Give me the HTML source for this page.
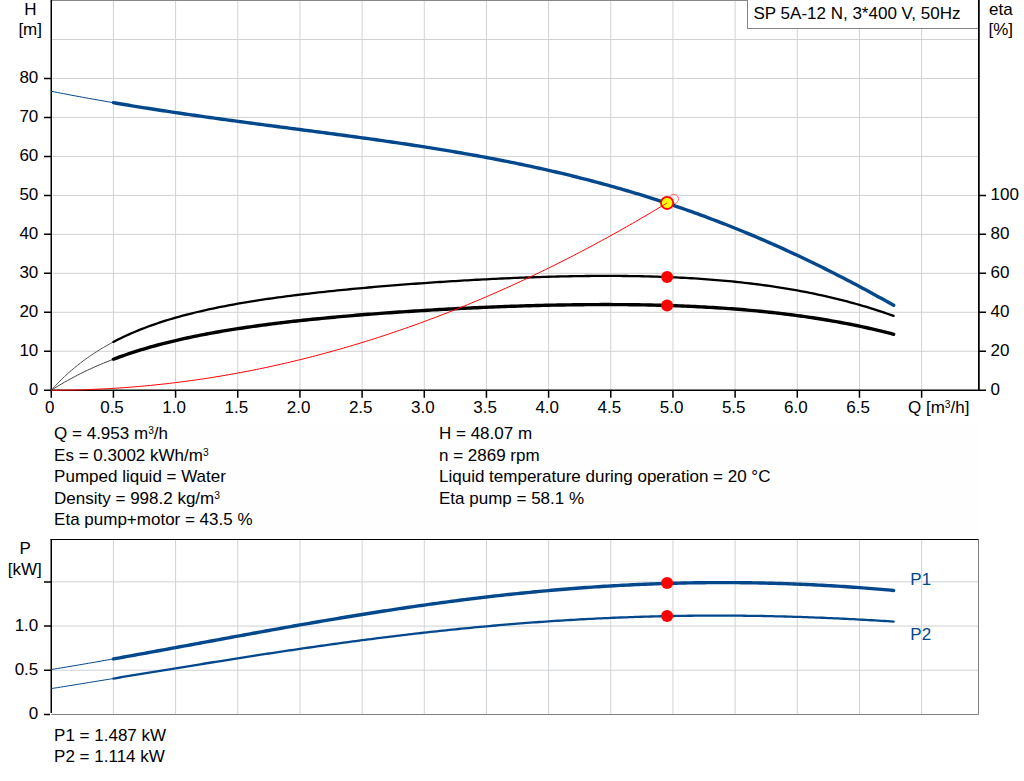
<!DOCTYPE html>
<html><head><meta charset="utf-8"><style>html,body{margin:0;padding:0;background:#fff;width:1024px;height:781px;overflow:hidden}</style></head>
<body><svg width="1024" height="781" viewBox="0 0 1024 781" style="position:absolute;left:0;top:0">
<rect width="1024" height="781" fill="#fff"/>
<rect x="51" y="423" width="927" height="113" fill="#fefefe"/>
<path d="M113.42 0V390.25M175.59 0V390.25M237.76 0V390.25M299.93 0V390.25M362.10 0V390.25M424.27 0V390.25M486.44 0V390.25M548.61 0V390.25M610.78 0V390.25M672.95 0V390.25M735.12 0V390.25M797.29 0V390.25M859.46 0V390.25M921.63 0V390.25M51.25 351.28H978.75M51.25 312.31H978.75M51.25 273.34H978.75M51.25 234.37H978.75M51.25 195.40H978.75M51.25 156.43H978.75M51.25 117.46H978.75M51.25 78.49H978.75M51.25 39.52H978.75" stroke="#cfd2d5" stroke-width="1" fill="none"/>
<path d="M51.25 0.5H978.75" stroke="#888" stroke-width="1"/>
<path d="M51.25 0V391.00M978.75 0V391.00M44 390.25H986M44 390.25H51.25M44 351.28H51.25M44 312.31H51.25M44 273.34H51.25M44 234.37H51.25M44 195.40H51.25M44 156.43H51.25M44 117.46H51.25M44 78.49H51.25M978.75 390.25H986M978.75 351.28H986M978.75 312.31H986M978.75 273.34H986M978.75 234.37H986M978.75 195.40H986M51.25 390.25V397.8M113.42 390.25V397.8M175.59 390.25V397.8M237.76 390.25V397.8M299.93 390.25V397.8M362.10 390.25V397.8M424.27 390.25V397.8M486.44 390.25V397.8M548.61 390.25V397.8M610.78 390.25V397.8M672.95 390.25V397.8M735.12 390.25V397.8M797.29 390.25V397.8M859.46 390.25V397.8M921.63 390.25V397.8" stroke="#000" stroke-width="1.5" fill="none"/>
<rect x="747.5" y="-1" width="231.25" height="29.5" fill="#fff" stroke="#858585" stroke-width="1"/>
<path d="M978.75 0V390.25" stroke="#000" stroke-width="1.5"/>
<path d="M51.25,91.28 L54.36,91.89 L57.47,92.50 L60.58,93.10 L63.68,93.70 L66.79,94.29 L69.90,94.88 L73.01,95.47 L76.12,96.05 L79.23,96.63 L82.34,97.20 L85.44,97.77 L88.55,98.33 L91.66,98.89 L94.77,99.44 L97.88,100.00 L100.99,100.54 L104.09,101.09 L107.20,101.63 L110.31,102.16 L113.42,102.69" stroke="#03478d" stroke-width="1" fill="none"/>
<path d="M113.42,102.69 L116.53,103.22 L119.64,103.75 L122.75,104.27 L125.85,104.78 L128.96,105.30 L132.07,105.81 L135.18,106.31 L138.29,106.81 L141.40,107.31 L144.50,107.81 L147.61,108.30 L150.72,108.79 L153.83,109.27 L156.94,109.75 L160.05,110.23 L163.16,110.71 L166.26,111.18 L169.37,111.65 L172.48,112.12 L175.59,112.58 L178.70,113.04 L181.81,113.50 L184.92,113.95 L188.02,114.41 L191.13,114.86 L194.24,115.30 L197.35,115.75 L200.46,116.19 L203.57,116.63 L206.68,117.07 L209.78,117.51 L212.89,117.94 L216.00,118.37 L219.11,118.80 L222.22,119.23 L225.33,119.66 L228.43,120.08 L231.54,120.51 L234.65,120.93 L237.76,121.35 L240.87,121.76 L243.98,122.18 L247.09,122.60 L250.19,123.01 L253.30,123.42 L256.41,123.84 L259.52,124.25 L262.63,124.66 L265.74,125.07 L268.85,125.48 L271.95,125.89 L275.06,126.29 L278.17,126.70 L281.28,127.11 L284.39,127.51 L287.50,127.92 L290.60,128.33 L293.71,128.73 L296.82,129.14 L299.93,129.54 L303.04,129.95 L306.15,130.36 L309.26,130.76 L312.36,131.17 L315.47,131.58 L318.58,131.99 L321.69,132.40 L324.80,132.81 L327.91,133.22 L331.01,133.63 L334.12,134.04 L337.23,134.46 L340.34,134.87 L343.45,135.29 L346.56,135.71 L349.67,136.13 L352.77,136.55 L355.88,136.97 L358.99,137.40 L362.10,137.82 L365.21,138.25 L368.32,138.68 L371.43,139.11 L374.53,139.55 L377.64,139.99 L380.75,140.43 L383.86,140.87 L386.97,141.31 L390.08,141.76 L393.19,142.21 L396.29,142.67 L399.40,143.12 L402.51,143.58 L405.62,144.05 L408.73,144.51 L411.84,144.98 L414.94,145.45 L418.05,145.93 L421.16,146.41 L424.27,146.89 L427.38,147.38 L430.49,147.87 L433.60,148.37 L436.70,148.87 L439.81,149.37 L442.92,149.88 L446.03,150.39 L449.14,150.91 L452.25,151.43 L455.36,151.96 L458.46,152.49 L461.57,153.02 L464.68,153.56 L467.79,154.11 L470.90,154.66 L474.01,155.22 L477.11,155.78 L480.22,156.34 L483.33,156.91 L486.44,157.49 L489.55,158.07 L492.66,158.66 L495.77,159.26 L498.87,159.86 L501.98,160.46 L505.09,161.08 L508.20,161.69 L511.31,162.32 L514.42,162.95 L517.53,163.59 L520.63,164.23 L523.74,164.88 L526.85,165.54 L529.96,166.20 L533.07,166.87 L536.18,167.55 L539.28,168.23 L542.39,168.92 L545.50,169.62 L548.61,170.33 L551.72,171.04 L554.83,171.76 L557.94,172.49 L561.04,173.22 L564.15,173.96 L567.26,174.71 L570.37,175.47 L573.48,176.24 L576.59,177.01 L579.70,177.79 L582.80,178.58 L585.91,179.38 L589.02,180.18 L592.13,181.00 L595.24,181.82 L598.35,182.65 L601.45,183.49 L604.56,184.33 L607.67,185.19 L610.78,186.05 L613.89,186.92 L617.00,187.81 L620.11,188.69 L623.21,189.59 L626.32,190.50 L629.43,191.42 L632.54,192.34 L635.65,193.28 L638.76,194.22 L641.87,195.17 L644.97,196.14 L648.08,197.11 L651.19,198.09 L654.30,199.08 L657.41,200.08 L660.52,201.09 L663.62,202.10 L666.73,203.13 L669.84,204.17 L672.95,205.22 L676.06,206.27 L679.17,207.34 L682.28,208.42 L685.38,209.50 L688.49,210.60 L691.60,211.70 L694.71,212.82 L697.82,213.94 L700.93,215.08 L704.03,216.22 L707.14,217.38 L710.25,218.54 L713.36,219.72 L716.47,220.91 L719.58,222.10 L722.69,223.31 L725.79,224.52 L728.90,225.75 L732.01,226.99 L735.12,228.23 L738.23,229.49 L741.34,230.76 L744.45,232.03 L747.55,233.32 L750.66,234.62 L753.77,235.93 L756.88,237.25 L759.99,238.58 L763.10,239.92 L766.21,241.26 L769.31,242.62 L772.42,244.00 L775.53,245.38 L778.64,246.77 L781.75,248.17 L784.86,249.58 L787.96,251.00 L791.07,252.43 L794.18,253.88 L797.29,255.33 L800.40,256.79 L803.51,258.27 L806.62,259.75 L809.72,261.24 L812.83,262.75 L815.94,264.26 L819.05,265.79 L822.16,267.32 L825.27,268.87 L828.38,270.42 L831.48,271.99 L834.59,273.56 L837.70,275.15 L840.81,276.74 L843.92,278.35 L847.03,279.96 L850.13,281.58 L853.24,283.22 L856.35,284.86 L859.46,286.52 L862.57,288.18 L865.68,289.85 L868.79,291.53 L871.89,293.23 L875.00,294.93 L878.11,296.64 L881.22,298.36 L884.33,300.09 L887.44,301.83 L890.55,303.57 L893.65,305.33" stroke="#03478d" stroke-width="3.4" fill="none" stroke-linecap="round" stroke-linejoin="round"/>
<path d="M51.37,390.11 L54.64,386.52 L57.91,383.09 L61.17,379.81 L64.44,376.66 L67.70,373.64 L70.97,370.75 L74.23,367.97 L77.50,365.31 L80.76,362.75 L84.03,360.29 L87.30,357.92 L90.56,355.65 L93.83,353.46 L97.09,351.36 L100.36,349.33 L103.62,347.37 L106.89,345.49 L110.15,343.67 L113.42,341.92" stroke="#555" stroke-width="1" fill="none"/>
<path d="M113.42,341.92 L116.53,340.31 L119.64,338.76 L122.75,337.25 L125.85,335.79 L128.96,334.38 L132.07,333.02 L135.18,331.69 L138.29,330.41 L141.40,329.17 L144.50,327.96 L147.61,326.79 L150.72,325.66 L153.83,324.56 L156.94,323.49 L160.05,322.45 L163.16,321.44 L166.26,320.46 L169.37,319.51 L172.48,318.58 L175.59,317.68 L178.70,316.80 L181.81,315.95 L184.92,315.12 L188.02,314.31 L191.13,313.52 L194.24,312.75 L197.35,312.00 L200.46,311.27 L203.57,310.55 L206.68,309.86 L209.78,309.18 L212.89,308.52 L216.00,307.87 L219.11,307.23 L222.22,306.61 L225.33,306.01 L228.43,305.42 L231.54,304.84 L234.65,304.27 L237.76,303.72 L240.87,303.18 L243.98,302.64 L247.09,302.12 L250.19,301.61 L253.30,301.11 L256.41,300.62 L259.52,300.14 L262.63,299.67 L265.74,299.21 L268.85,298.76 L271.95,298.31 L275.06,297.87 L278.17,297.44 L281.28,297.02 L284.39,296.60 L287.50,296.20 L290.60,295.80 L293.71,295.40 L296.82,295.01 L299.93,294.63 L303.04,294.26 L306.15,293.89 L309.26,293.52 L312.36,293.16 L315.47,292.81 L318.58,292.46 L321.69,292.12 L324.80,291.78 L327.91,291.45 L331.01,291.12 L334.12,290.80 L337.23,290.48 L340.34,290.17 L343.45,289.86 L346.56,289.55 L349.67,289.25 L352.77,288.95 L355.88,288.66 L358.99,288.37 L362.10,288.08 L365.21,287.80 L368.32,287.52 L371.43,287.25 L374.53,286.97 L377.64,286.71 L380.75,286.44 L383.86,286.18 L386.97,285.92 L390.08,285.67 L393.19,285.42 L396.29,285.17 L399.40,284.92 L402.51,284.68 L405.62,284.44 L408.73,284.21 L411.84,283.97 L414.94,283.74 L418.05,283.52 L421.16,283.29 L424.27,283.07 L427.38,282.85 L430.49,282.64 L433.60,282.43 L436.70,282.22 L439.81,282.01 L442.92,281.81 L446.03,281.61 L449.14,281.41 L452.25,281.22 L455.36,281.03 L458.46,280.84 L461.57,280.65 L464.68,280.47 L467.79,280.29 L470.90,280.11 L474.01,279.94 L477.11,279.77 L480.22,279.60 L483.33,279.44 L486.44,279.28 L489.55,279.12 L492.66,278.96 L495.77,278.81 L498.87,278.66 L501.98,278.52 L505.09,278.38 L508.20,278.24 L511.31,278.10 L514.42,277.97 L517.53,277.85 L520.63,277.72 L523.74,277.60 L526.85,277.48 L529.96,277.37 L533.07,277.26 L536.18,277.15 L539.28,277.05 L542.39,276.95 L545.50,276.86 L548.61,276.77 L551.72,276.68 L554.83,276.60 L557.94,276.52 L561.04,276.45 L564.15,276.38 L567.26,276.31 L570.37,276.25 L573.48,276.20 L576.59,276.15 L579.70,276.10 L582.80,276.06 L585.91,276.02 L589.02,275.99 L592.13,275.96 L595.24,275.94 L598.35,275.92 L601.45,275.91 L604.56,275.90 L607.67,275.90 L610.78,275.90 L613.89,275.91 L617.00,275.93 L620.11,275.95 L623.21,275.98 L626.32,276.01 L629.43,276.05 L632.54,276.09 L635.65,276.14 L638.76,276.20 L641.87,276.27 L644.97,276.34 L648.08,276.41 L651.19,276.50 L654.30,276.59 L657.41,276.69 L660.52,276.79 L663.62,276.90 L666.73,277.02 L669.84,277.15 L672.95,277.28 L676.06,277.43 L679.17,277.58 L682.28,277.73 L685.38,277.90 L688.49,278.07 L691.60,278.26 L694.71,278.45 L697.82,278.65 L700.93,278.86 L704.03,279.07 L707.14,279.30 L710.25,279.53 L713.36,279.78 L716.47,280.03 L719.58,280.30 L722.69,280.57 L725.79,280.85 L728.90,281.15 L732.01,281.45 L735.12,281.76 L738.23,282.09 L741.34,282.42 L744.45,282.77 L747.55,283.12 L750.66,283.49 L753.77,283.87 L756.88,284.26 L759.99,284.66 L763.10,285.08 L766.21,285.51 L769.31,285.94 L772.42,286.39 L775.53,286.86 L778.64,287.33 L781.75,287.82 L784.86,288.33 L787.96,288.84 L791.07,289.37 L794.18,289.92 L797.29,290.47 L800.40,291.04 L803.51,291.63 L806.62,292.23 L809.72,292.85 L812.83,293.48 L815.94,294.12 L819.05,294.78 L822.16,295.46 L825.27,296.15 L828.38,296.86 L831.48,297.59 L834.59,298.33 L837.70,299.09 L840.81,299.87 L843.92,300.66 L847.03,301.47 L850.13,302.30 L853.24,303.15 L856.35,304.01 L859.46,304.90 L862.57,305.80 L865.68,306.72 L868.79,307.66 L871.89,308.63 L875.00,309.61 L878.11,310.61 L881.22,311.63 L884.33,312.68 L887.44,313.74 L890.55,314.83 L893.65,315.94" stroke="#000" stroke-width="2.3" fill="none" stroke-linecap="round" stroke-linejoin="round"/>
<path d="M51.37,390.17 L54.64,388.11 L57.91,386.10 L61.17,384.15 L64.44,382.25 L67.70,380.40 L70.97,378.61 L74.23,376.86 L77.50,375.16 L80.76,373.51 L84.03,371.90 L87.30,370.34 L90.56,368.82 L93.83,367.34 L97.09,365.90 L100.36,364.50 L103.62,363.13 L106.89,361.81 L110.15,360.51 L113.42,359.25" stroke="#444" stroke-width="1" fill="none"/>
<path d="M113.42,359.25 L116.53,358.09 L119.64,356.95 L122.75,355.84 L125.85,354.75 L128.96,353.70 L132.07,352.67 L135.18,351.66 L138.29,350.68 L141.40,349.72 L144.50,348.79 L147.61,347.87 L150.72,346.98 L153.83,346.11 L156.94,345.26 L160.05,344.43 L163.16,343.62 L166.26,342.83 L169.37,342.05 L172.48,341.30 L175.59,340.56 L178.70,339.84 L181.81,339.13 L184.92,338.44 L188.02,337.76 L191.13,337.10 L194.24,336.45 L197.35,335.82 L200.46,335.20 L203.57,334.59 L206.68,334.00 L209.78,333.41 L212.89,332.84 L216.00,332.29 L219.11,331.74 L222.22,331.20 L225.33,330.68 L228.43,330.16 L231.54,329.66 L234.65,329.16 L237.76,328.68 L240.87,328.20 L243.98,327.74 L247.09,327.28 L250.19,326.83 L253.30,326.39 L256.41,325.95 L259.52,325.53 L262.63,325.11 L265.74,324.70 L268.85,324.29 L271.95,323.90 L275.06,323.51 L278.17,323.13 L281.28,322.75 L284.39,322.38 L287.50,322.02 L290.60,321.66 L293.71,321.31 L296.82,320.96 L299.93,320.62 L303.04,320.28 L306.15,319.96 L309.26,319.63 L312.36,319.31 L315.47,319.00 L318.58,318.69 L321.69,318.38 L324.80,318.08 L327.91,317.79 L331.01,317.49 L334.12,317.21 L337.23,316.93 L340.34,316.65 L343.45,316.37 L346.56,316.10 L349.67,315.83 L352.77,315.57 L355.88,315.31 L358.99,315.06 L362.10,314.81 L365.21,314.56 L368.32,314.31 L371.43,314.07 L374.53,313.83 L377.64,313.60 L380.75,313.37 L383.86,313.14 L386.97,312.92 L390.08,312.70 L393.19,312.48 L396.29,312.26 L399.40,312.05 L402.51,311.84 L405.62,311.63 L408.73,311.43 L411.84,311.23 L414.94,311.03 L418.05,310.84 L421.16,310.65 L424.27,310.46 L427.38,310.27 L430.49,310.09 L433.60,309.91 L436.70,309.73 L439.81,309.56 L442.92,309.39 L446.03,309.22 L449.14,309.05 L452.25,308.89 L455.36,308.73 L458.46,308.57 L461.57,308.41 L464.68,308.26 L467.79,308.11 L470.90,307.97 L474.01,307.82 L477.11,307.68 L480.22,307.54 L483.33,307.41 L486.44,307.27 L489.55,307.14 L492.66,307.02 L495.77,306.89 L498.87,306.77 L501.98,306.65 L505.09,306.54 L508.20,306.42 L511.31,306.32 L514.42,306.21 L517.53,306.11 L520.63,306.00 L523.74,305.91 L526.85,305.81 L529.96,305.72 L533.07,305.63 L536.18,305.55 L539.28,305.47 L542.39,305.39 L545.50,305.31 L548.61,305.24 L551.72,305.17 L554.83,305.11 L557.94,305.05 L561.04,304.99 L564.15,304.93 L567.26,304.88 L570.37,304.84 L573.48,304.79 L576.59,304.75 L579.70,304.72 L582.80,304.68 L585.91,304.65 L589.02,304.63 L592.13,304.61 L595.24,304.59 L598.35,304.58 L601.45,304.57 L604.56,304.57 L607.67,304.57 L610.78,304.57 L613.89,304.58 L617.00,304.59 L620.11,304.61 L623.21,304.63 L626.32,304.66 L629.43,304.69 L632.54,304.72 L635.65,304.76 L638.76,304.81 L641.87,304.86 L644.97,304.92 L648.08,304.98 L651.19,305.04 L654.30,305.11 L657.41,305.19 L660.52,305.27 L663.62,305.36 L666.73,305.45 L669.84,305.55 L672.95,305.65 L676.06,305.76 L679.17,305.88 L682.28,306.00 L685.38,306.12 L688.49,306.26 L691.60,306.40 L694.71,306.54 L697.82,306.70 L700.93,306.85 L704.03,307.02 L707.14,307.19 L710.25,307.37 L713.36,307.55 L716.47,307.75 L719.58,307.95 L722.69,308.15 L725.79,308.37 L728.90,308.59 L732.01,308.82 L735.12,309.05 L738.23,309.30 L741.34,309.55 L744.45,309.81 L747.55,310.08 L750.66,310.35 L753.77,310.64 L756.88,310.93 L759.99,311.23 L763.10,311.54 L766.21,311.86 L769.31,312.19 L772.42,312.52 L775.53,312.87 L778.64,313.22 L781.75,313.59 L784.86,313.96 L787.96,314.35 L791.07,314.74 L794.18,315.14 L797.29,315.56 L800.40,315.98 L803.51,316.41 L806.62,316.86 L809.72,317.31 L812.83,317.78 L815.94,318.26 L819.05,318.75 L822.16,319.25 L825.27,319.76 L828.38,320.28 L831.48,320.81 L834.59,321.36 L837.70,321.92 L840.81,322.49 L843.92,323.08 L847.03,323.67 L850.13,324.28 L853.24,324.91 L856.35,325.54 L859.46,326.19 L862.57,326.85 L865.68,327.53 L868.79,328.22 L871.89,328.93 L875.00,329.65 L878.11,330.38 L881.22,331.13 L884.33,331.90 L887.44,332.68 L890.55,333.47 L893.65,334.29" stroke="#000" stroke-width="3.4" fill="none" stroke-linecap="round" stroke-linejoin="round"/>
<path d="M51.25,390.25 L54.36,390.25 L57.47,390.23 L60.58,390.21 L63.68,390.17 L66.79,390.13 L69.90,390.08 L73.01,390.02 L76.12,389.94 L79.23,389.86 L82.34,389.77 L85.44,389.67 L88.55,389.56 L91.66,389.44 L94.77,389.31 L97.88,389.18 L100.99,389.03 L104.09,388.87 L107.20,388.70 L110.31,388.53 L113.42,388.34 L116.53,388.15 L119.64,387.94 L122.75,387.73 L125.85,387.50 L128.96,387.27 L132.07,387.02 L135.18,386.77 L138.29,386.51 L141.40,386.24 L144.50,385.95 L147.61,385.66 L150.72,385.36 L153.83,385.05 L156.94,384.73 L160.05,384.40 L163.16,384.06 L166.26,383.72 L169.37,383.36 L172.48,382.99 L175.59,382.61 L178.70,382.23 L181.81,381.83 L184.92,381.43 L188.02,381.01 L191.13,380.59 L194.24,380.15 L197.35,379.71 L200.46,379.25 L203.57,378.79 L206.68,378.32 L209.78,377.84 L212.89,377.35 L216.00,376.84 L219.11,376.33 L222.22,375.81 L225.33,375.28 L228.43,374.74 L231.54,374.20 L234.65,373.64 L237.76,373.07 L240.87,372.49 L243.98,371.90 L247.09,371.31 L250.19,370.70 L253.30,370.09 L256.41,369.46 L259.52,368.83 L262.63,368.18 L265.74,367.53 L268.85,366.86 L271.95,366.19 L275.06,365.51 L278.17,364.82 L281.28,364.12 L284.39,363.40 L287.50,362.68 L290.60,361.95 L293.71,361.21 L296.82,360.46 L299.93,359.71 L303.04,358.94 L306.15,358.16 L309.26,357.37 L312.36,356.58 L315.47,355.77 L318.58,354.95 L321.69,354.13 L324.80,353.29 L327.91,352.45 L331.01,351.59 L334.12,350.73 L337.23,349.86 L340.34,348.97 L343.45,348.08 L346.56,347.18 L349.67,346.27 L352.77,345.35 L355.88,344.41 L358.99,343.47 L362.10,342.52 L365.21,341.57 L368.32,340.60 L371.43,339.62 L374.53,338.63 L377.64,337.63 L380.75,336.63 L383.86,335.61 L386.97,334.58 L390.08,333.55 L393.19,332.50 L396.29,331.45 L399.40,330.38 L402.51,329.31 L405.62,328.23 L408.73,327.13 L411.84,326.03 L414.94,324.92 L418.05,323.80 L421.16,322.67 L424.27,321.53 L427.38,320.38 L430.49,319.22 L433.60,318.05 L436.70,316.87 L439.81,315.68 L442.92,314.48 L446.03,313.27 L449.14,312.06 L452.25,310.83 L455.36,309.59 L458.46,308.35 L461.57,307.09 L464.68,305.83 L467.79,304.55 L470.90,303.27 L474.01,301.98 L477.11,300.67 L480.22,299.36 L483.33,298.04 L486.44,296.71 L489.55,295.37 L492.66,294.02 L495.77,292.66 L498.87,291.29 L501.98,289.91 L505.09,288.52 L508.20,287.12 L511.31,285.71 L514.42,284.30 L517.53,282.87 L520.63,281.43 L523.74,279.99 L526.85,278.53 L529.96,277.06 L533.07,275.59 L536.18,274.11 L539.28,272.61 L542.39,271.11 L545.50,269.60 L548.61,268.07 L551.72,266.54 L554.83,265.00 L557.94,263.45 L561.04,261.89 L564.15,260.32 L567.26,258.74 L570.37,257.15 L573.48,255.55 L576.59,253.94 L579.70,252.32 L582.80,250.70 L585.91,249.06 L589.02,247.41 L592.13,245.76 L595.24,244.09 L598.35,242.42 L601.45,240.73 L604.56,239.04 L607.67,237.33 L610.78,235.62 L613.89,233.90 L617.00,232.16 L620.11,230.42 L623.21,228.67 L626.32,226.91 L629.43,225.14 L632.54,223.36 L635.65,221.57 L638.76,219.77 L641.87,217.96 L644.97,216.14 L648.08,214.32 L651.19,212.48 L654.30,210.63 L657.41,208.77 L660.52,206.91 L663.62,205.03 L666.73,203.15 L669.84,201.25 L672.95,199.35" stroke="#f00" stroke-width="1" fill="none"/>
<circle cx="673.8" cy="199.0" r="4.7" fill="none" stroke="#f66" stroke-width="1"/>
<circle cx="667.1" cy="202.9" r="6.1" fill="#ff0" stroke="#f00" stroke-width="1.8"/>
<path d="M661 206.7L667.1 202.9" stroke="#f33" stroke-width="1"/>
<circle cx="667.1" cy="277.04" r="6.0" fill="#f00"/>
<circle cx="667.1" cy="305.49" r="6.0" fill="#f00"/>
<text x="30.50" y="15.00" text-anchor="middle" font-family="Liberation Sans" font-size="17" fill="#000">H</text>
<text x="30.20" y="34.80" text-anchor="middle" font-family="Liberation Sans" font-size="17" fill="#000">[m]</text>
<text x="1000.80" y="14.90" text-anchor="middle" font-family="Liberation Sans" font-size="17" fill="#000">eta</text>
<text x="1000.80" y="34.80" text-anchor="middle" font-family="Liberation Sans" font-size="17" fill="#000">[%]</text>
<text x="38.30" y="395.05" text-anchor="end" font-family="Liberation Sans" font-size="17" fill="#000">0</text>
<text x="38.30" y="356.08" text-anchor="end" font-family="Liberation Sans" font-size="17" fill="#000">10</text>
<text x="38.30" y="317.11" text-anchor="end" font-family="Liberation Sans" font-size="17" fill="#000">20</text>
<text x="38.30" y="278.14" text-anchor="end" font-family="Liberation Sans" font-size="17" fill="#000">30</text>
<text x="38.30" y="239.17" text-anchor="end" font-family="Liberation Sans" font-size="17" fill="#000">40</text>
<text x="38.30" y="200.20" text-anchor="end" font-family="Liberation Sans" font-size="17" fill="#000">50</text>
<text x="38.30" y="161.23" text-anchor="end" font-family="Liberation Sans" font-size="17" fill="#000">60</text>
<text x="38.30" y="122.26" text-anchor="end" font-family="Liberation Sans" font-size="17" fill="#000">70</text>
<text x="38.30" y="83.29" text-anchor="end" font-family="Liberation Sans" font-size="17" fill="#000">80</text>
<text x="990.50" y="395.05" text-anchor="start" font-family="Liberation Sans" font-size="17" fill="#000">0</text>
<text x="990.50" y="356.08" text-anchor="start" font-family="Liberation Sans" font-size="17" fill="#000">20</text>
<text x="990.50" y="317.11" text-anchor="start" font-family="Liberation Sans" font-size="17" fill="#000">40</text>
<text x="990.50" y="278.14" text-anchor="start" font-family="Liberation Sans" font-size="17" fill="#000">60</text>
<text x="990.50" y="239.17" text-anchor="start" font-family="Liberation Sans" font-size="17" fill="#000">80</text>
<text x="990.50" y="200.20" text-anchor="start" font-family="Liberation Sans" font-size="17" fill="#000">100</text>
<text x="49.85" y="413.00" text-anchor="middle" font-family="Liberation Sans" font-size="17" fill="#000">0</text>
<text x="112.02" y="413.00" text-anchor="middle" font-family="Liberation Sans" font-size="17" fill="#000">0.5</text>
<text x="174.19" y="413.00" text-anchor="middle" font-family="Liberation Sans" font-size="17" fill="#000">1.0</text>
<text x="236.36" y="413.00" text-anchor="middle" font-family="Liberation Sans" font-size="17" fill="#000">1.5</text>
<text x="298.53" y="413.00" text-anchor="middle" font-family="Liberation Sans" font-size="17" fill="#000">2.0</text>
<text x="360.70" y="413.00" text-anchor="middle" font-family="Liberation Sans" font-size="17" fill="#000">2.5</text>
<text x="422.87" y="413.00" text-anchor="middle" font-family="Liberation Sans" font-size="17" fill="#000">3.0</text>
<text x="485.04" y="413.00" text-anchor="middle" font-family="Liberation Sans" font-size="17" fill="#000">3.5</text>
<text x="547.21" y="413.00" text-anchor="middle" font-family="Liberation Sans" font-size="17" fill="#000">4.0</text>
<text x="609.38" y="413.00" text-anchor="middle" font-family="Liberation Sans" font-size="17" fill="#000">4.5</text>
<text x="671.55" y="413.00" text-anchor="middle" font-family="Liberation Sans" font-size="17" fill="#000">5.0</text>
<text x="733.72" y="413.00" text-anchor="middle" font-family="Liberation Sans" font-size="17" fill="#000">5.5</text>
<text x="795.89" y="413.00" text-anchor="middle" font-family="Liberation Sans" font-size="17" fill="#000">6.0</text>
<text x="858.06" y="413.00" text-anchor="middle" font-family="Liberation Sans" font-size="17" fill="#000">6.5</text>
<text x="908.00" y="413.00" text-anchor="start" font-family="Liberation Sans" font-size="17" fill="#000">Q [m<tspan font-size="10.2" dy="-5.4">3</tspan><tspan dy="5.4">/h]</tspan></text>
<text x="753.50" y="18.90" text-anchor="start" font-family="Liberation Sans" font-size="17" fill="#000">SP 5A-12 N, 3*400 V, 50Hz</text>
<text x="54.10" y="439.00" text-anchor="start" font-family="Liberation Sans" font-size="17" fill="#000">Q = 4.953 m<tspan font-size="10.2" dy="-5.4">3</tspan><tspan dy="5.4">/h</tspan></text>
<text x="54.10" y="461.00" text-anchor="start" font-family="Liberation Sans" font-size="17" fill="#000">Es = 0.3002 kWh/m<tspan font-size="10.2" dy="-5.4">3</tspan></text>
<text x="54.10" y="482.00" text-anchor="start" font-family="Liberation Sans" font-size="17" fill="#000">Pumped liquid = Water</text>
<text x="54.10" y="504.00" text-anchor="start" font-family="Liberation Sans" font-size="17" fill="#000">Density = 998.2 kg/m<tspan font-size="10.2" dy="-5.4">3</tspan></text>
<text x="54.10" y="525.00" text-anchor="start" font-family="Liberation Sans" font-size="17" fill="#000">Eta pump+motor = 43.5 %</text>
<text x="439.00" y="439.00" text-anchor="start" font-family="Liberation Sans" font-size="17" fill="#000">H = 48.07 m</text>
<text x="439.00" y="461.00" text-anchor="start" font-family="Liberation Sans" font-size="17" fill="#000">n = 2869 rpm</text>
<text x="439.00" y="482.00" text-anchor="start" font-family="Liberation Sans" font-size="17" fill="#000">Liquid temperature during operation = 20 °C</text>
<text x="439.00" y="504.00" text-anchor="start" font-family="Liberation Sans" font-size="17" fill="#000">Eta pump = 58.1 %</text>
<path d="M113.42 539.50V714.40M175.59 539.50V714.40M237.76 539.50V714.40M299.93 539.50V714.40M362.10 539.50V714.40M424.27 539.50V714.40M486.44 539.50V714.40M548.61 539.50V714.40M610.78 539.50V714.40M672.95 539.50V714.40M735.12 539.50V714.40M797.29 539.50V714.40M859.46 539.50V714.40M921.63 539.50V714.40M51.25 670.24H978.75M51.25 626.07H978.75M51.25 581.90H978.75" stroke="#cfd2d5" stroke-width="1" fill="none"/>
<path d="M51.25 714.5H978.5V539.50" stroke="#808080" stroke-width="1" fill="none"/>
<path d="M51.25 713V539.00" stroke="#000" stroke-width="1.5" fill="none"/>
<path d="M50.50 539.50H978.5" stroke="#000" stroke-width="1" fill="none"/>
<path d="M44 714.40H50.00M44 670.24H51.25M44 626.07H51.25M44 581.90H51.25" stroke="#000" stroke-width="1.5" fill="none"/>
<text x="25.20" y="553.80" text-anchor="middle" font-family="Liberation Sans" font-size="17" fill="#000">P</text>
<text x="24.80" y="574.60" text-anchor="middle" font-family="Liberation Sans" font-size="17" fill="#000">[kW]</text>
<text x="38.30" y="719.20" text-anchor="end" font-family="Liberation Sans" font-size="17" fill="#000">0</text>
<text x="38.30" y="675.03" text-anchor="end" font-family="Liberation Sans" font-size="17" fill="#000">0.5</text>
<text x="38.30" y="630.87" text-anchor="end" font-family="Liberation Sans" font-size="17" fill="#000">1.0</text>
<path d="M51.25,669.54 L54.36,669.03 L57.47,668.52 L60.58,668.01 L63.68,667.49 L66.79,666.97 L69.90,666.45 L73.01,665.93 L76.12,665.40 L79.23,664.87 L82.34,664.34 L85.44,663.81 L88.55,663.27 L91.66,662.73 L94.77,662.19 L97.88,661.65 L100.99,661.11 L104.09,660.56 L107.20,660.01 L110.31,659.46 L113.42,658.91" stroke="#03478d" stroke-width="1" fill="none"/>
<path d="M113.42,658.91 L116.53,658.35 L119.64,657.80 L122.75,657.24 L125.85,656.68 L128.96,656.12 L132.07,655.56 L135.18,655.00 L138.29,654.44 L141.40,653.87 L144.50,653.31 L147.61,652.74 L150.72,652.17 L153.83,651.60 L156.94,651.03 L160.05,650.46 L163.16,649.89 L166.26,649.32 L169.37,648.75 L172.48,648.17 L175.59,647.60 L178.70,647.03 L181.81,646.45 L184.92,645.88 L188.02,645.30 L191.13,644.73 L194.24,644.15 L197.35,643.58 L200.46,643.00 L203.57,642.43 L206.68,641.86 L209.78,641.28 L212.89,640.71 L216.00,640.13 L219.11,639.56 L222.22,638.99 L225.33,638.41 L228.43,637.84 L231.54,637.27 L234.65,636.70 L237.76,636.13 L240.87,635.56 L243.98,634.99 L247.09,634.42 L250.19,633.85 L253.30,633.29 L256.41,632.72 L259.52,632.16 L262.63,631.60 L265.74,631.04 L268.85,630.48 L271.95,629.92 L275.06,629.36 L278.17,628.80 L281.28,628.25 L284.39,627.69 L287.50,627.14 L290.60,626.59 L293.71,626.04 L296.82,625.49 L299.93,624.95 L303.04,624.41 L306.15,623.86 L309.26,623.32 L312.36,622.79 L315.47,622.25 L318.58,621.72 L321.69,621.18 L324.80,620.65 L327.91,620.13 L331.01,619.60 L334.12,619.08 L337.23,618.56 L340.34,618.04 L343.45,617.52 L346.56,617.01 L349.67,616.50 L352.77,615.99 L355.88,615.48 L358.99,614.98 L362.10,614.48 L365.21,613.98 L368.32,613.48 L371.43,612.99 L374.53,612.50 L377.64,612.01 L380.75,611.52 L383.86,611.04 L386.97,610.56 L390.08,610.09 L393.19,609.61 L396.29,609.15 L399.40,608.68 L402.51,608.21 L405.62,607.75 L408.73,607.30 L411.84,606.84 L414.94,606.39 L418.05,605.94 L421.16,605.50 L424.27,605.06 L427.38,604.62 L430.49,604.19 L433.60,603.76 L436.70,603.33 L439.81,602.91 L442.92,602.49 L446.03,602.07 L449.14,601.66 L452.25,601.25 L455.36,600.85 L458.46,600.45 L461.57,600.05 L464.68,599.65 L467.79,599.26 L470.90,598.88 L474.01,598.50 L477.11,598.12 L480.22,597.74 L483.33,597.37 L486.44,597.01 L489.55,596.65 L492.66,596.29 L495.77,595.93 L498.87,595.58 L501.98,595.24 L505.09,594.90 L508.20,594.56 L511.31,594.23 L514.42,593.90 L517.53,593.57 L520.63,593.25 L523.74,592.94 L526.85,592.63 L529.96,592.32 L533.07,592.02 L536.18,591.72 L539.28,591.42 L542.39,591.13 L545.50,590.85 L548.61,590.57 L551.72,590.29 L554.83,590.02 L557.94,589.75 L561.04,589.49 L564.15,589.23 L567.26,588.98 L570.37,588.73 L573.48,588.49 L576.59,588.25 L579.70,588.02 L582.80,587.79 L585.91,587.56 L589.02,587.34 L592.13,587.13 L595.24,586.92 L598.35,586.71 L601.45,586.51 L604.56,586.32 L607.67,586.13 L610.78,585.94 L613.89,585.76 L617.00,585.58 L620.11,585.41 L623.21,585.24 L626.32,585.08 L629.43,584.93 L632.54,584.78 L635.65,584.63 L638.76,584.49 L641.87,584.35 L644.97,584.22 L648.08,584.09 L651.19,583.97 L654.30,583.86 L657.41,583.75 L660.52,583.64 L663.62,583.54 L666.73,583.44 L669.84,583.35 L672.95,583.27 L676.06,583.19 L679.17,583.11 L682.28,583.04 L685.38,582.98 L688.49,582.92 L691.60,582.86 L694.71,582.81 L697.82,582.77 L700.93,582.73 L704.03,582.69 L707.14,582.67 L710.25,582.64 L713.36,582.62 L716.47,582.61 L719.58,582.60 L722.69,582.60 L725.79,582.60 L728.90,582.61 L732.01,582.62 L735.12,582.64 L738.23,582.67 L741.34,582.69 L744.45,582.73 L747.55,582.77 L750.66,582.81 L753.77,582.86 L756.88,582.92 L759.99,582.98 L763.10,583.04 L766.21,583.11 L769.31,583.19 L772.42,583.27 L775.53,583.35 L778.64,583.45 L781.75,583.54 L784.86,583.65 L787.96,583.75 L791.07,583.86 L794.18,583.98 L797.29,584.10 L800.40,584.23 L803.51,584.37 L806.62,584.50 L809.72,584.65 L812.83,584.80 L815.94,584.95 L819.05,585.11 L822.16,585.27 L825.27,585.44 L828.38,585.62 L831.48,585.80 L834.59,585.98 L837.70,586.17 L840.81,586.37 L843.92,586.57 L847.03,586.77 L850.13,586.98 L853.24,587.20 L856.35,587.42 L859.46,587.64 L862.57,587.87 L865.68,588.11 L868.79,588.35 L871.89,588.59 L875.00,588.84 L878.11,589.10 L881.22,589.36 L884.33,589.63 L887.44,589.90 L890.55,590.17 L893.65,590.45" stroke="#03478d" stroke-width="3.4" fill="none" stroke-linecap="round" stroke-linejoin="round"/>
<path d="M51.25,688.60 L54.36,688.10 L57.47,687.61 L60.58,687.11 L63.68,686.61 L66.79,686.11 L69.90,685.61 L73.01,685.11 L76.12,684.61 L79.23,684.11 L82.34,683.60 L85.44,683.10 L88.55,682.59 L91.66,682.08 L94.77,681.58 L97.88,681.07 L100.99,680.56 L104.09,680.05 L107.20,679.54 L110.31,679.03 L113.42,678.52" stroke="#03478d" stroke-width="1" fill="none"/>
<path d="M113.42,678.52 L116.53,678.01 L119.64,677.50 L122.75,676.99 L125.85,676.48 L128.96,675.97 L132.07,675.46 L135.18,674.94 L138.29,674.43 L141.40,673.92 L144.50,673.41 L147.61,672.90 L150.72,672.39 L153.83,671.88 L156.94,671.36 L160.05,670.85 L163.16,670.34 L166.26,669.83 L169.37,669.32 L172.48,668.82 L175.59,668.31 L178.70,667.80 L181.81,667.29 L184.92,666.79 L188.02,666.28 L191.13,665.78 L194.24,665.27 L197.35,664.77 L200.46,664.26 L203.57,663.76 L206.68,663.26 L209.78,662.76 L212.89,662.26 L216.00,661.77 L219.11,661.27 L222.22,660.77 L225.33,660.28 L228.43,659.79 L231.54,659.29 L234.65,658.80 L237.76,658.32 L240.87,657.83 L243.98,657.34 L247.09,656.86 L250.19,656.37 L253.30,655.89 L256.41,655.41 L259.52,654.93 L262.63,654.45 L265.74,653.98 L268.85,653.50 L271.95,653.03 L275.06,652.56 L278.17,652.09 L281.28,651.63 L284.39,651.16 L287.50,650.70 L290.60,650.24 L293.71,649.78 L296.82,649.32 L299.93,648.86 L303.04,648.41 L306.15,647.96 L309.26,647.51 L312.36,647.06 L315.47,646.62 L318.58,646.18 L321.69,645.74 L324.80,645.30 L327.91,644.86 L331.01,644.43 L334.12,644.00 L337.23,643.57 L340.34,643.15 L343.45,642.72 L346.56,642.30 L349.67,641.88 L352.77,641.47 L355.88,641.05 L358.99,640.64 L362.10,640.23 L365.21,639.83 L368.32,639.42 L371.43,639.02 L374.53,638.63 L377.64,638.23 L380.75,637.84 L383.86,637.45 L386.97,637.06 L390.08,636.68 L393.19,636.30 L396.29,635.92 L399.40,635.55 L402.51,635.17 L405.62,634.80 L408.73,634.44 L411.84,634.07 L414.94,633.71 L418.05,633.36 L421.16,633.00 L424.27,632.65 L427.38,632.30 L430.49,631.96 L433.60,631.62 L436.70,631.28 L439.81,630.95 L442.92,630.61 L446.03,630.28 L449.14,629.96 L452.25,629.64 L455.36,629.32 L458.46,629.00 L461.57,628.69 L464.68,628.38 L467.79,628.08 L470.90,627.77 L474.01,627.47 L477.11,627.18 L480.22,626.89 L483.33,626.60 L486.44,626.31 L489.55,626.03 L492.66,625.75 L495.77,625.48 L498.87,625.21 L501.98,624.94 L505.09,624.68 L508.20,624.42 L511.31,624.16 L514.42,623.91 L517.53,623.66 L520.63,623.41 L523.74,623.17 L526.85,622.93 L529.96,622.70 L533.07,622.46 L536.18,622.24 L539.28,622.01 L542.39,621.79 L545.50,621.58 L548.61,621.36 L551.72,621.15 L554.83,620.95 L557.94,620.75 L561.04,620.55 L564.15,620.36 L567.26,620.17 L570.37,619.98 L573.48,619.80 L576.59,619.62 L579.70,619.44 L582.80,619.27 L585.91,619.11 L589.02,618.94 L592.13,618.78 L595.24,618.63 L598.35,618.47 L601.45,618.33 L604.56,618.18 L607.67,618.04 L610.78,617.91 L613.89,617.77 L617.00,617.64 L620.11,617.52 L623.21,617.40 L626.32,617.28 L629.43,617.17 L632.54,617.06 L635.65,616.96 L638.76,616.85 L641.87,616.76 L644.97,616.66 L648.08,616.57 L651.19,616.49 L654.30,616.41 L657.41,616.33 L660.52,616.26 L663.62,616.19 L666.73,616.12 L669.84,616.06 L672.95,616.00 L676.06,615.95 L679.17,615.90 L682.28,615.85 L685.38,615.81 L688.49,615.77 L691.60,615.73 L694.71,615.70 L697.82,615.68 L700.93,615.66 L704.03,615.64 L707.14,615.62 L710.25,615.61 L713.36,615.60 L716.47,615.60 L719.58,615.60 L722.69,615.61 L725.79,615.62 L728.90,615.63 L732.01,615.64 L735.12,615.66 L738.23,615.69 L741.34,615.72 L744.45,615.75 L747.55,615.78 L750.66,615.82 L753.77,615.87 L756.88,615.91 L759.99,615.97 L763.10,616.02 L766.21,616.08 L769.31,616.14 L772.42,616.21 L775.53,616.28 L778.64,616.35 L781.75,616.43 L784.86,616.51 L787.96,616.59 L791.07,616.68 L794.18,616.78 L797.29,616.87 L800.40,616.97 L803.51,617.08 L806.62,617.18 L809.72,617.29 L812.83,617.41 L815.94,617.53 L819.05,617.65 L822.16,617.77 L825.27,617.90 L828.38,618.04 L831.48,618.17 L834.59,618.31 L837.70,618.45 L840.81,618.60 L843.92,618.75 L847.03,618.91 L850.13,619.06 L853.24,619.22 L856.35,619.39 L859.46,619.56 L862.57,619.73 L865.68,619.90 L868.79,620.08 L871.89,620.26 L875.00,620.44 L878.11,620.63 L881.22,620.82 L884.33,621.02 L887.44,621.22 L890.55,621.42 L893.65,621.62" stroke="#03478d" stroke-width="2.3" fill="none" stroke-linecap="round" stroke-linejoin="round"/>
<circle cx="667.1" cy="583.0" r="6.0" fill="#f00"/>
<circle cx="667.1" cy="615.96" r="6.0" fill="#f00"/>
<text x="910.30" y="585.00" text-anchor="start" font-family="Liberation Sans" font-size="17" fill="#03478d">P1</text>
<text x="910.30" y="640.00" text-anchor="start" font-family="Liberation Sans" font-size="17" fill="#03478d">P2</text>
<text x="54.10" y="740.70" text-anchor="start" font-family="Liberation Sans" font-size="17" fill="#000">P1 = 1.487 kW</text>
<text x="54.10" y="761.80" text-anchor="start" font-family="Liberation Sans" font-size="17" fill="#000">P2 = 1.114 kW</text>
</svg>
</body></html>
